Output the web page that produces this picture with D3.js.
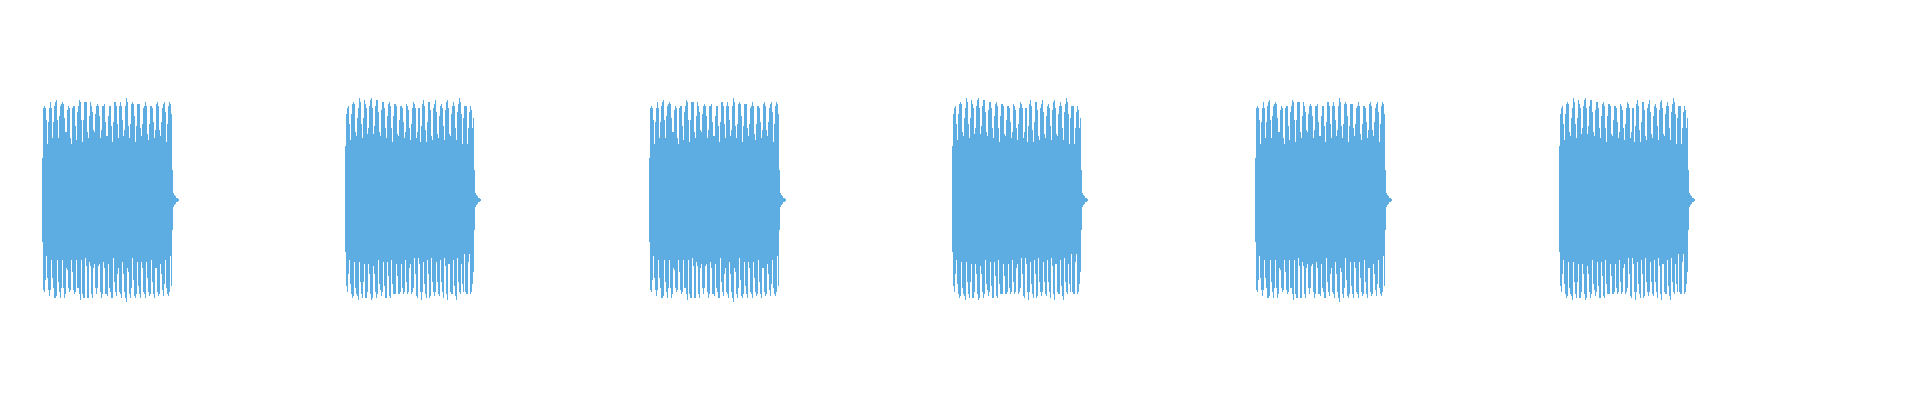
<!DOCTYPE html>
<html lang="en">
<head>
  <meta charset="utf-8">
  <title>Waveform</title>
  <script src="https://d3js.org/d3.v7.min.js"></script>
  <style>
    html, body { margin: 0; padding: 0; background: #fff; overflow: hidden; }
    svg { display: block; }
  </style>
</head>
<body>
<svg id="wave" width="1920" height="400"></svg>

<script>
// ---- data ----------------------------------------------------------------
// length of the clip shown (s) and where each beep starts (s)
var duration = 6.33;
var beepStarts = [0.1385, 1.1385, 2.1385, 3.1385, 4.1385, 5.1385];
// which peak pattern each beep uses (0 = A, 1 = B)
var beepPattern = [0, 1, 0, 1, 0, 1];

// per-column max / min amplitude (0..1), one value per pixel column
var peaksTopA = [0.21,
  .46,.47,.46,.40,.28,.39,.46,.49,.46,.31,
  .39,.47,.49,.50,.40,.31,.42,.47,.48,.49,
  .48,.41,.34,.34,.45,.47,.46,.31,.28,.46,
  .47,.47,.37,.30,.44,.47,.50,.49,.40,.29,
  .40,.49,.49,.49,.34,.31,.42,.49,.47,.44,
  .35,.34,.43,.47,.48,.47,.42,.31,.35,.47,
  .47,.48,.39,.32,.32,.42,.47,.47,.37,.29,
  .39,.49,.49,.47,.38,.31,.47,.49,.47,.40,
  .32,.35,.47,.51,.49,.37,.31,.38,.48,.49,
  .48,.42,.29,.37,.48,.48,.48,.36,.32,.38,
  .46,.47,.49,.47,.33,.30,.38,.47,.47,.46,
  .39,.31,.35,.48,.49,.47,.35,.32,.39,.46,
  .48,.49,.44,.29,.38,.47,.49,.48,.43,
  0.15,0.035,0.025,0.02,0.01,0.01,0.005];

var peaksBottomA = [0.21,
  .45,.46,.40,.28,.39,.45,.48,.45,.30,.39,
  .44,.49,.49,.48,.30,.41,.46,.49,.44,.30,
  .44,.49,.47,.34,.35,.44,.46,.45,.30,.36,
  .45,.47,.46,.30,.44,.44,.47,.50,.30,.47,
  .49,.49,.29,.33,.49,.49,.31,.33,.47,.49,
  .34,.32,.44,.47,.44,.33,.32,.46,.49,.47,
  .31,.34,.47,.47,.48,.32,.44,.46,.49,.49,
  .29,.41,.46,.48,.37,.34,.46,.47,.49,.31,
  .37,.46,.49,.51,.34,.36,.47,.49,.44,.29,
  .40,.48,.49,.47,.31,.43,.47,.49,.31,.34,
  .46,.47,.49,.31,.39,.46,.48,.47,.30,.41,
  .47,.49,.34,.34,.46,.48,.47,.32,.37,.45,
  .48,.42,.30,.44,.47,.48,.46,.28,.43,
  0.15,0.035,0.025,0.02,0.01,0.01,0.005];

var peaksTopB = [0.27,
  .43,.46,.47,.38,.30,.43,.48,.49,.48,.34,
  .32,.41,.46,.51,.49,.38,.31,.41,.50,.48,
  .46,.33,.36,.47,.50,.51,.46,.33,.37,.47,
  .50,.50,.44,.34,.32,.45,.49,.49,.46,.36,
  .31,.42,.48,.49,.47,.36,.29,.42,.48,.48,
  .47,.33,.32,.40,.47,.47,.46,.39,.31,.34,
  .48,.47,.45,.36,.30,.38,.46,.49,.48,.46,
  .31,.34,.46,.46,.29,.37,.48,.50,.47,.35,
  .29,.39,.49,.49,.45,.32,.30,.46,.48,.50,
  .44,.33,.31,.42,.47,.48,.46,.37,.30,.45,
  .49,.50,.46,.33,.32,.43,.47,.49,.47,.36,
  .30,.44,.48,.51,.49,.43,.28,.41,.47,.47,
  .47,.28,.36,.44,.47,.45,.36,.41,
  0.15,0.035,0.025,0.02,0.01,0.01,0.005];

var peaksBottomB = [0.26,
  .43,.46,.37,.30,.42,.47,.49,.48,.31,.44,
  .47,.48,.50,.31,.41,.47,.49,.41,.32,.49,
  .49,.46,.32,.37,.47,.50,.49,.33,.37,.46,
  .49,.47,.30,.42,.45,.48,.46,.31,.43,.49,
  .49,.31,.38,.48,.49,.30,.42,.47,.47,.47,
  .32,.38,.47,.47,.46,.32,.44,.47,.46,.30,
  .41,.47,.46,.34,.32,.47,.46,.44,.29,.37,
  .48,.49,.29,.32,.46,.50,.46,.31,.42,.47,
  .49,.30,.37,.49,.48,.29,.41,.46,.48,.46,
  .31,.41,.47,.48,.30,.41,.46,.49,.29,.33,
  .47,.50,.32,.32,.46,.47,.47,.30,.43,.48,
  .50,.29,.41,.46,.47,.32,.42,.46,.27,.46,
  .47,.47,.31,.27,.47,.46,.42,.36,
  0.15,0.035,0.025,0.02,0.01,0.01,0.005];

var patterns = [
  { top: peaksTopA, bottom: peaksBottomA },
  { top: peaksTopB, bottom: peaksBottomB }
];

// ---- chart ---------------------------------------------------------------
var width = 1920, height = 400;
var colStep = duration / width; // seconds per pixel column

var svg = d3.select("#wave");

var x = d3.scaleLinear().domain([0, duration]).range([0, width]);
var y = d3.scaleLinear().domain([-1, 1]).range([height, 0]);

var beeps = svg.selectAll("g.beep")
  .data(beepStarts)
  .enter().append("g")
    .attr("class", "beep")
    .attr("fill", "#5dade2")
    .attr("shape-rendering", "crispEdges");

beeps.each(function(start, i) {
  var p = patterns[beepPattern[i]];
  var cols = p.top.map(function(t, j) {
    return { t: start + j * colStep, hi: t, lo: p.bottom[j] };
  });
  d3.select(this).selectAll("rect")
    .data(cols)
    .enter().append("rect")
      .attr("x", function(d) { return Math.round(x(d.t)); })
      .attr("width", Math.max(1, x(colStep) - x(0)))
      .attr("y", function(d) { return y(d.hi); })
      .attr("height", function(d) { return Math.max(1, y(-d.lo) - y(d.hi)); });
});
</script>
</body>
</html>
